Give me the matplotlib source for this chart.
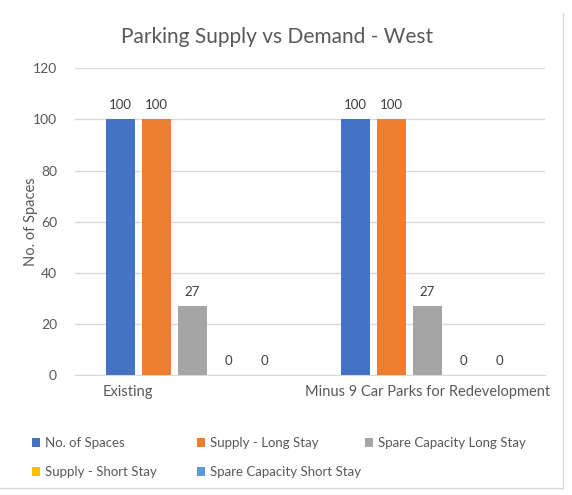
import numpy as np
import matplotlib.pyplot as plt
from matplotlib.transforms import ScaledTranslation

plt.rcParams['font.family'] = ['Lato', 'DejaVu Sans']

categories = ["Existing", "Minus 9 Car Parks for Redevelopment"]
series_names = ["No. of Spaces", "Supply - Long Stay", "Spare Capacity Long Stay",
                "Supply - Short Stay", "Spare Capacity Short Stay"]
no_of_spaces = [100, 100]
supply_long = [100, 100]
spare_long = [27, 27]
supply_short = [0, 0]
spare_short = [0, 0]
colors = ["#4472C4", "#ED7D31", "#A5A5A5", "#FFC000", "#5B9BD5"]

values = [no_of_spaces, supply_long, spare_long, supply_short, spare_short]

fig = plt.figure(figsize=(5.72, 4.95), dpi=100)
ax = fig.add_axes([0.1311, 0.2424, 0.8217, 0.6196])

x = np.arange(len(categories))
pitch = 0.153
width = 0.121
bars = []
for i, (name, vals) in enumerate(zip(series_names, values)):
    b = ax.bar(x + (i - 2) * pitch, vals, width, color=colors[i], label=name, zorder=3)
    ax.bar_label(b, padding=6, fontsize=9.5, color="#404040")
    bars.append(b)

ax.set_xlim(-0.5, 1.5)
ax.set_ylim(0, 120)
ax.set_yticks(np.arange(0, 121, 20))
ax.yaxis.grid(True, color="#D9D9D9", linewidth=1, zorder=0)
ax.set_axisbelow(True)
for s in ["top", "right", "left"]:
    ax.spines[s].set_visible(False)
ax.spines["bottom"].set_color("#D9D9D9")
ax.tick_params(axis="y", length=0, pad=13, labelsize=10, labelcolor="#595959")
ax.tick_params(axis="x", length=0, pad=7, labelsize=10.5, labelcolor="#595959")
ax.set_xticks(x)
ax.set_xticklabels(categories)
# Existing label sits left of its group in the original
lab = ax.get_xticklabels()[0]
lab.set_transform(lab.get_transform() + ScaledTranslation(-0.65, 0, fig.dpi_scale_trans))

ax.set_ylabel("No. of Spaces", fontsize=10.5, color="#595959", labelpad=-4)
fig.text(0.485, 0.925, "Parking Supply vs Demand - West", ha="center", va="center",
         fontsize=15, color="#595959")

# legend in three fixed columns, like Excel
col_x = [32 / 572, 197 / 572, 365 / 572]
cols = [[0, 3], [1, 4], [2]]
for cx, idx in zip(col_x, cols):
    fig.legend([bars[k] for k in idx], [series_names[k] for k in idx],
               loc="upper left", bbox_to_anchor=(cx, 0.117), frameon=False,
               borderpad=0, borderaxespad=0, handlelength=0.6, handleheight=0.6,
               handletextpad=0.35, labelspacing=1.3, fontsize=9.5,
               labelcolor="#595959")

# chart frame edges
fig.add_artist(plt.Line2D([563 / 572, 563 / 572], [1 - 488 / 495, 1 - 13 / 495],
                          color="#D9D9D9", linewidth=1))
fig.add_artist(plt.Line2D([0, 563 / 572], [1 - 488 / 495, 1 - 488 / 495],
                          color="#D9D9D9", linewidth=1))

fig.savefig("out.png", dpi=100)
